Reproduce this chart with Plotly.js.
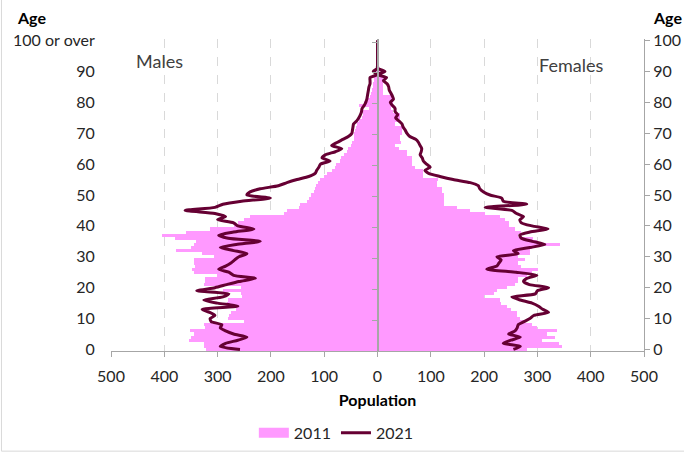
<!DOCTYPE html>
<html>
<head>
<meta charset="utf-8">
<script src="https://cdn.plot.ly/plotly-3.0.1.min.js"></script>
<style>
html,body{margin:0;padding:0;background:#fff;}
#chart{width:684px;height:452px;}
</style>
</head>
<body>
<div id="chart"></div>
<script>
// Ages (single years, 100 = "100 or over")
var ages = [0,1,2,3,4,5,6,7,8,9,10,11,12,13,14,15,16,17,18,19,20,21,22,23,24,25,26,27,28,29,30,31,32,33,34,35,36,37,38,39,40,41,42,43,44,45,46,47,48,49,50,51,52,53,54,55,56,57,58,59,60,61,62,63,64,65,66,67,68,69,70,71,72,73,74,75,76,77,78,79,80,81,82,83,84,85,86,87,88,89,90,91,92,93,94,95,96,97,98,99,100];

// 2011 males (bars)
var males2011 = [322,325,326,354,350,345,351,323,326,250,280,279,275,265,285,283,280,254,257,290,257,326,323,323,301,345,348,342,345,345,307,330,378,350,345,340,379,404,360,314,270,262,250,239,176,170,148,145,132,129,125,120,118,115,112,108,100,95,85,80,78,70,68,62,58,55,50,48,45,45,44,42,40,38,35,30,28,30,16,35,25,18,15,12,10,8,8,6,6,5,4,3,3,2,2,1,1,1,0,0,1];

// 2011 females (bars)
var females2011 = [280,346,340,308,333,318,336,300,290,275,268,262,261,250,243,232,230,199,218,224,243,258,264,264,280,290,302,270,264,277,264,286,286,290,342,299,292,264,270,258,246,246,239,230,202,174,149,124,124,125,125,121,121,111,111,114,86,86,86,70,64,64,64,55,55,40,33,45,42,42,46,46,46,33,38,42,42,30,25,28,30,30,30,11,11,11,11,10,11,9,5,4,3,2,2,1,1,0,0,0,1];

// 2021 males (line)
var males2021 = [258,295,285,262,245,270,285,295,292,312,314,305,315,329,262,300,326,290,279,339,305,283,260,229,270,279,298,285,275,268,260,245,270,295,265,220,280,298,270,232,262,270,300,285,305,361,305,290,255,201,245,239,220,186,170,151,129,117,114,110,107,89,104,98,79,67,86,76,65,54,48,47,46,45,39,35,32,30,29,25,22,20,19,18,17,16,14,14,14,0,8,0,0,0,0,0,0,0,0,0,0];

// 2021 females (line)
var females2021 = [255,268,236,250,268,246,258,262,264,275,286,293,321,310,302,290,268,252,296,300,321,285,274,280,299,260,205,224,228,232,224,264,255,286,314,290,270,267,286,320,290,270,267,274,261,252,202,280,236,233,211,199,192,189,174,142,117,96,89,99,92,86,84,80,82,83,80,77,72,60,55,52,48,46,40,34,38,33,33,28,24,30,28,25,22,21,18,11,17,0,14,0,0,0,0,0,0,0,0,0,0];

// Axis labels
var xTickVals = [-500,-400,-300,-200,-100,0,100,200,300,400,500];
var xTickText = ['500','400','300','200','100','0','100','200','300','400','500'];
var yTickVals = [0,10,20,30,40,50,60,70,80,90,100];
var yTickTextLeft = ['0','10','20','30','40','50','60','70','80','90','100 or over'];
var yTickTextRight = ['0','10','20','30','40','50','60','70','80','90','100'];
var centreTickVals = [-0.5,9.5,19.5,29.5,39.5,49.5,59.5,69.5,79.5,89.5,99.5];

var PINK = '#FF99FF';
var MAROON = '#660033';
var GREY = '#a6a6a6';
var FONT = 'Lato, Carlito, Calibri, "Open Sans", sans-serif';

var neg = function(a){ return a.map(function(v){ return -v; }); };

var traces = [
  {type:'bar', orientation:'h', y:ages, x:neg(males2011), name:'2011', legendgroup:'2011',
   showlegend:false, marker:{color:PINK, line:{width:0}}, hoverinfo:'skip'},
  {type:'bar', orientation:'h', y:ages, x:females2011, name:'2011', legendgroup:'2011',
   showlegend:false, marker:{color:PINK, line:{width:0}}, hoverinfo:'skip'},
  {type:'scatter', mode:'lines', y:ages, x:neg(males2021), name:'2021', legendgroup:'2021',
   showlegend:false, line:{color:MAROON, width:3, shape:'spline', smoothing:0.6}, hoverinfo:'skip'},
  {type:'scatter', mode:'lines', y:ages, x:females2021, name:'2021', legendgroup:'2021',
   showlegend:false, line:{color:MAROON, width:3, shape:'spline', smoothing:0.6}, hoverinfo:'skip'},
  // legend entries
  {type:'scatter', mode:'lines', x:[null], y:[null], name:'2011', legendgroup:'2011',
   showlegend:true, line:{color:PINK, width:14}, hoverinfo:'skip'},
  {type:'scatter', mode:'lines', x:[null], y:[null], name:'2021', legendgroup:'2021',
   showlegend:true, line:{color:MAROON, width:3}, hoverinfo:'skip'},
  {type:'scatter', mode:'lines', x:[null], y:[null], yaxis:'y2', showlegend:false, hoverinfo:'skip'},
  {type:'scatter', mode:'lines', x:[null], y:[null], yaxis:'y3', showlegend:false, hoverinfo:'skip'}
];

var layout = {
  width:684, height:452,
  margin:{l:111, r:40, t:39, b:101, pad:0, autoexpand:false},
  paper_bgcolor:'#ffffff', plot_bgcolor:'#ffffff',
  font:{family:FONT, size:16, color:'#262626'},
  barmode:'overlay', bargap:0,
  showlegend:true,
  legend:{orientation:'h', x:0.268, xanchor:'left', y:-0.262, yanchor:'middle',
          font:{family:FONT, size:16, color:'#262626'}, itemwidth:30, tracegroupgap:0,
          bgcolor:'rgba(0,0,0,0)'},
  xaxis:{range:[-500,500], autorange:false, tickmode:'array', tickvals:xTickVals, ticktext:xTickText,
         ticks:'outside', ticklen:5, tickcolor:GREY, tickwidth:1,
         showline:true, linecolor:GREY, linewidth:1,
         showgrid:true, gridcolor:'#d9d9d9', griddash:'dash', gridwidth:1,
         zeroline:false, tickfont:{family:FONT, size:16, color:'#262626'},
         ticklabelstandoff:6, automargin:false,
         title:{text:'<b>Population</b>', standoff:10, font:{family:FONT, size:16, color:'#000000'}}},
  yaxis:{range:[-0.5,100.5], autorange:false, tickmode:'array', tickvals:yTickVals, ticktext:yTickTextLeft,
         ticks:'outside', ticklen:12, tickcolor:'rgba(0,0,0,0)', automargin:false,
         showline:false, showgrid:false, zeroline:false,
         tickfont:{family:FONT, size:16, color:'#262626'}},
  yaxis2:{overlaying:'y', side:'right', range:[-0.5,100.5], autorange:false, automargin:false,
          tickmode:'array', tickvals:yTickVals, ticktext:yTickTextRight,
          ticks:'outside', ticklen:5, tickcolor:GREY,
          showline:true, linecolor:GREY, linewidth:1, showgrid:false, zeroline:false,
          tickfont:{family:FONT, size:16, color:'#262626'}},
  yaxis3:{overlaying:'y', anchor:'free', position:0.5, side:'left', range:[-0.5,100.5], autorange:false,
          tickmode:'array', tickvals:centreTickVals, showticklabels:false, automargin:false,
          ticks:'outside', ticklen:5, tickcolor:GREY,
          showline:true, linecolor:GREY, linewidth:2.5, showgrid:false, zeroline:false,
          layer:'above traces'},
  annotations:[
    {xref:'paper', yref:'paper', x:-0.18, y:1.069, xanchor:'left', yanchor:'middle', showarrow:false,
     text:'<b>Age</b>', font:{family:FONT, size:16, color:'#000000'}},
    {xref:'paper', yref:'paper', x:1.0137, y:1.069, xanchor:'left', yanchor:'middle', showarrow:false,
     text:'<b>Age</b>', font:{family:FONT, size:16, color:'#000000'}},
    {xref:'paper', yref:'paper', x:0.044, y:0.931, xanchor:'left', yanchor:'middle', showarrow:false,
     text:'Males', font:{family:FONT, size:18, color:'#404040'}},
    {xref:'paper', yref:'paper', x:0.800, y:0.918, xanchor:'left', yanchor:'middle', showarrow:false,
     text:'Females', font:{family:FONT, size:18, color:'#404040'}}
  ],
  shapes:[
    {type:'rect', xref:'paper', yref:'paper', x0:-0.2055, x1:1.2, y0:-0.321, y1:1.3,
     line:{color:'#d9d9d9', width:1}, fillcolor:'rgba(0,0,0,0)', layer:'below'}
  ]
};

Plotly.newPlot('chart', traces, layout, {displayModeBar:false, staticPlot:true});
</script>
</body>
</html>
